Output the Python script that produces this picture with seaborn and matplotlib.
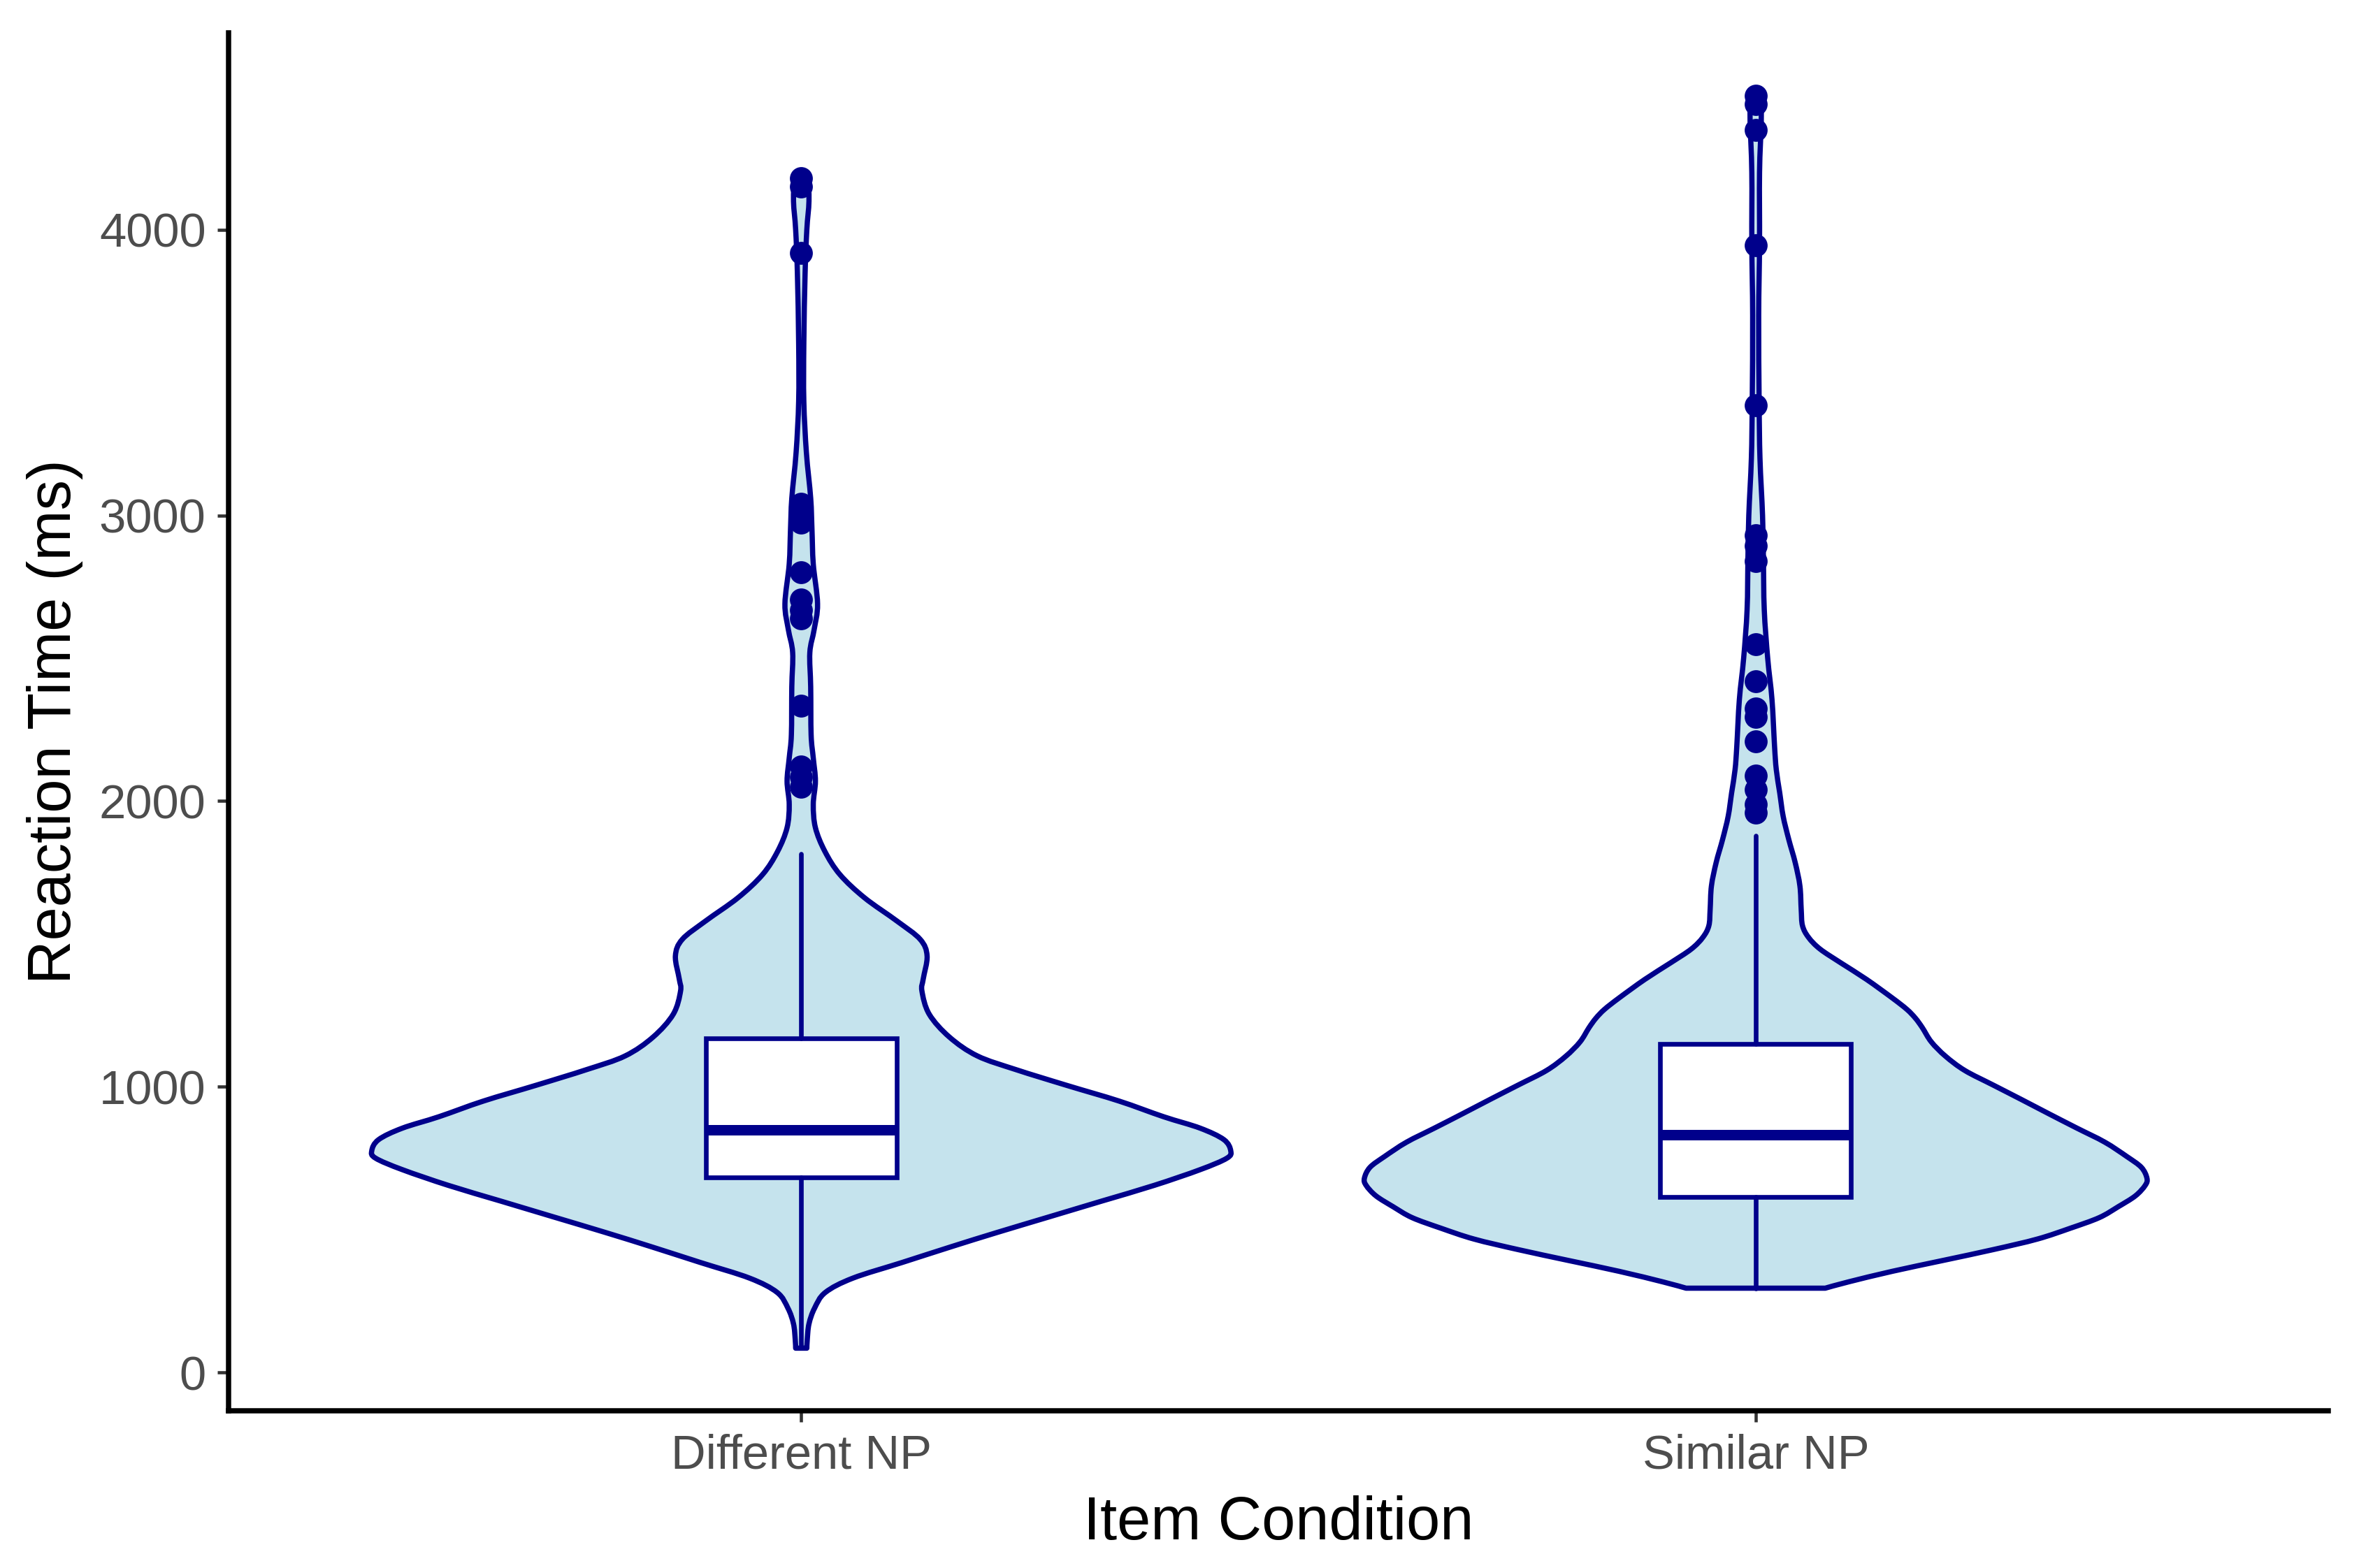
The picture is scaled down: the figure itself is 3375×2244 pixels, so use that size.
import numpy as np
import pandas as pd
import matplotlib
matplotlib.use("Agg")
import matplotlib.pyplot as plt
from matplotlib.path import Path
from matplotlib.patches import PathPatch
import seaborn as sns

# ==========================================================
# Data
# ==========================================================

conditions = ["Different NP", "Similar NP"]

# violin outline: reaction time (ms) and relative density (1.0 = widest)
diff_rt = [85, 115, 170, 225, 280, 330, 385, 440, 490, 545, 600, 655, 710,
           750, 776, 815, 855, 895, 950, 1005, 1060, 1108, 1174, 1254, 1335,
           1377, 1458, 1516, 1580, 1662, 1743, 1824, 1907, 1988, 2070, 2151,
           2232, 2400, 2520, 2600, 2690, 2830, 2950, 3060, 3220, 3400, 3600,
           3850, 4000, 4100, 4185]
diff_density = [0.013, 0.014, 0.018, 0.031, 0.056, 0.120, 0.235, 0.349,
                0.456, 0.578, 0.700, 0.822, 0.929, 0.991, 1.000, 0.984,
                0.929, 0.844, 0.740, 0.618, 0.500, 0.410, 0.345, 0.298,
                0.281, 0.284, 0.293, 0.277, 0.223, 0.147, 0.090, 0.055,
                0.033, 0.028, 0.033, 0.028, 0.023, 0.022, 0.020, 0.030,
                0.038, 0.028, 0.025, 0.022, 0.012, 0.006, 0.006, 0.009,
                0.013, 0.018, 0.016]

sim_rt = [295, 317, 354, 392, 430, 467, 505, 542, 580, 618, 655, 680, 718,
          756, 806, 856, 906, 956, 1006, 1057, 1107, 1157, 1207, 1240, 1271,
          1311, 1376, 1433, 1482, 1523, 1564, 1621, 1703, 1785, 1866, 1947,
          2029, 2110, 2191, 2355, 2500, 2670, 2850, 3000, 3200, 3400, 3700,
          3950, 4200, 4380, 4470]
sim_density = [0.162, 0.216, 0.318, 0.436, 0.553, 0.656, 0.733, 0.800,
               0.844, 0.884, 0.907, 0.911, 0.898, 0.864, 0.813, 0.747,
               0.682, 0.618, 0.553, 0.487, 0.442, 0.409, 0.388, 0.372,
               0.352, 0.318, 0.258, 0.199, 0.150, 0.123, 0.109, 0.106,
               0.103, 0.092, 0.077, 0.064, 0.056, 0.048, 0.044, 0.038,
               0.028, 0.020, 0.018, 0.016, 0.010, 0.008, 0.007, 0.009,
               0.009, 0.013, 0.013]

# box plot summaries (ms)
whisker_low = [85, 295]
q1 = [682, 615]
median = [848, 832]
q3 = [1170, 1150]
whisker_high = [1815, 1880]

# outliers (ms)
diff_outliers = [4180, 4150, 3920, 3040, 3010, 2975, 2800, 2705, 2670,
                 2640, 2335, 2120, 2085, 2050]
sim_outliers = [4470, 4440, 4350, 3945, 3385, 2930, 2895, 2840, 2550,
                2420, 2325, 2295, 2210, 2090, 2040, 1990, 1960]

# ==========================================================
# Styling
# ==========================================================

FILL = "#ADD8E6"
LINE = "#00008B"
MAX_HALF_WIDTH = 0.45
BOX_WIDTH = 0.2

sns.set_theme(style="ticks")
plt.rcParams["font.family"] = ["Liberation Sans", "DejaVu Sans"]


def SmoothSide(pts):
    # Catmull-Rom through the read points, written as cubic Bezier segments
    p = np.vstack([pts[0], pts, pts[-1]])
    verts, codes = [], []
    for i in range(1, len(p) - 2):
        c1 = p[i] + (p[i + 1] - p[i - 1]) / 6.0
        c2 = p[i + 1] - (p[i + 2] - p[i]) / 6.0
        verts += [c1, c2, p[i + 1]]
        codes += [Path.CURVE4] * 3
    return verts, codes


def ViolinPath(pos, rt, density):
    y = np.asarray(rt, dtype=float)
    hw = np.asarray(density, dtype=float) * MAX_HALF_WIDTH
    left = np.column_stack([pos - hw, y])
    right = np.column_stack([pos + hw, y])[::-1]

    verts = [left[0]]
    codes = [Path.MOVETO]
    v, c = SmoothSide(left)
    verts += v
    codes += c
    verts.append(right[0])
    codes.append(Path.LINETO)
    v, c = SmoothSide(right)
    verts += v
    codes += c
    verts.append(left[0])
    codes.append(Path.CLOSEPOLY)
    return Path(np.asarray(verts), codes)


def DrawViolin(ax, pos, rt, density):
    path = ViolinPath(pos, rt, density)
    ax.add_patch(PathPatch(path, facecolor=FILL, alpha=0.7,
                           edgecolor="none", zorder=1))
    ax.add_patch(PathPatch(path, facecolor="none", edgecolor=LINE,
                           linewidth=1.8, joinstyle="round", zorder=2))


def main():

    fig, ax = plt.subplots(figsize=(11.25, 7.48), dpi=300)
    fig.subplots_adjust(left=0.0969, right=0.987, bottom=0.1003, top=0.979)

    positions = [0, 1]

    DrawViolin(ax, positions[0], diff_rt, diff_density)
    DrawViolin(ax, positions[1], sim_rt, sim_density)

    stats = []
    for i in range(len(conditions)):
        stats.append({
            "label": conditions[i],
            "whislo": whisker_low[i],
            "q1": q1[i],
            "med": median[i],
            "q3": q3[i],
            "whishi": whisker_high[i],
            "fliers": [],
        })

    ax.bxp(
        stats,
        positions=positions,
        widths=BOX_WIDTH,
        patch_artist=True,
        showcaps=False,
        showfliers=False,
        boxprops=dict(facecolor="white", edgecolor=LINE, linewidth=1.6),
        whiskerprops=dict(color=LINE, linewidth=1.6),
        medianprops=dict(color=LINE, linewidth=3.6, solid_capstyle="butt"),
        manage_ticks=False,
        zorder=3,
    )

    out_df = pd.DataFrame({
        "pos": [positions[0]] * len(diff_outliers) + [positions[1]] * len(sim_outliers),
        "rt": diff_outliers + sim_outliers,
    })
    sns.scatterplot(data=out_df, x="pos", y="rt", color=LINE, s=62,
                    linewidth=0, ax=ax, zorder=4, legend=False)

    ax.set_xlim(-0.6, 1.6)
    ax.set_ylim(-134, 4689)
    ax.set_xticks(positions)
    ax.set_xticklabels(conditions)
    ax.set_yticks([0, 1000, 2000, 3000, 4000])

    ax.set_xlabel("Item Condition", fontsize=20.8, color="black", labelpad=6)
    ax.set_ylabel("Reaction Time (ms)", fontsize=20.8, color="black",
                  labelpad=5.5)

    ax.tick_params(axis="both", labelsize=16.5, labelcolor="#4D4D4D",
                   color="#333333", length=3.8, width=1.1, pad=4)

    sns.despine(ax=ax)
    for side in ["left", "bottom"]:
        ax.spines[side].set_color("black")
        ax.spines[side].set_linewidth(1.8)

    fig.savefig("out.png", dpi=300, facecolor="white")
    plt.close(fig)


if __name__ == "__main__":
    main()
